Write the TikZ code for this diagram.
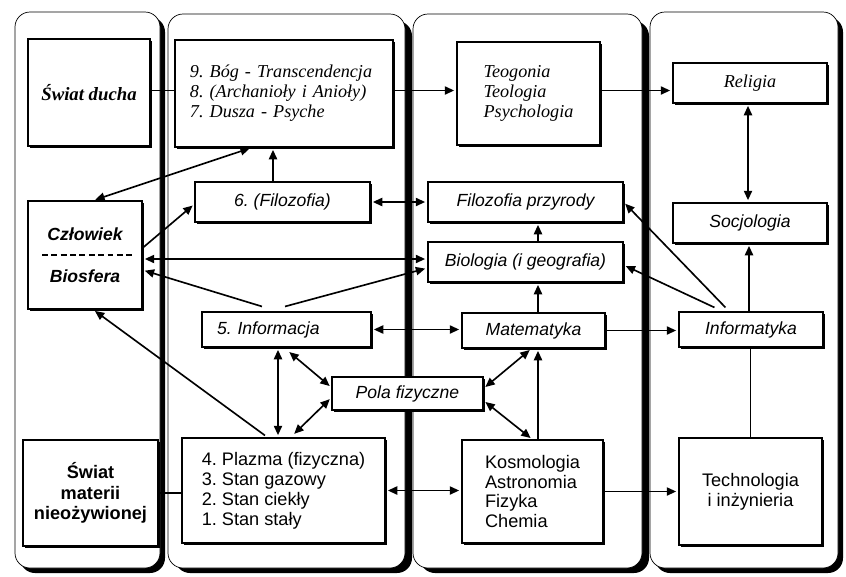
\documentclass[tikz,border=0pt]{standalone}
\usepackage{fontspec}
\setmainfont{Liberation Serif}
\setsansfont{Liberation Sans}
\usetikzlibrary{arrows.meta,calc,shadows}
\begin{document}
\frenchspacing
\begin{tikzpicture}[x=0.03cm,y=-0.03cm,
  box/.style={draw, line width=0.9pt, fill=white, inner sep=0pt,
    drop shadow={shadow xshift=1.4pt, shadow yshift=-1.4pt, opacity=1, fill=black}},
  ln/.style={line width=1.4pt},
  arr/.style={ln, -{Triangle[length=8pt,width=7pt]}, shorten >=2pt},
  darr/.style={ln, {Triangle[length=8pt,width=7pt]}-{Triangle[length=8pt,width=7pt]}, shorten >=2pt, shorten <=2pt},
  serit/.style={font=\fontsize{15.5}{17}\selectfont\itshape},
  sanit/.style={font=\fontsize{15}{17}\selectfont\sffamily\itshape},
  san/.style={font=\fontsize{15.5}{17}\selectfont\sffamily},
  panelshadow/.style={fill=black, rounded corners=0.45cm},
  panel/.style={draw, line width=0.6pt, fill=white, rounded corners=0.45cm}
]
\useasboundingbox (0,0) rectangle (846,576);
\fill[white] (0,0) rectangle (846,576);

% panels
\foreach \a/\b/\t/\s in {15/160/12/5, 168/405/14/7, 413/642/14/7, 650/838/12/5}{
  \fill[panelshadow] (\a+\s,\t+\s) rectangle (\b+\s,573);
  \draw[panel] (\a,\t) rectangle (\b,568);
}

% column 1
\node[box, font=\fontsize{16}{17}\selectfont\bfseries\itshape, minimum width=3.66cm, minimum height=3.21cm] (ducha) at (89,92.5) {Świat ducha};
\node[box, font=\fontsize{15}{17}\selectfont\sffamily\bfseries\itshape, align=center, minimum width=3.42cm, minimum height=3.24cm] (czl) at (85,255) {Człowiek\\[19pt]Biosfera};
\draw[line width=1pt, dash pattern=on 5pt off 3pt] ($(czl.center)+(-43,0)$) -- ($(czl.center)+(47,0)$);
\node[box, font=\fontsize{15.5}{17.5}\selectfont\sffamily\bfseries, align=center, minimum width=4.05cm, minimum height=3.18cm] (mat) at (90.5,493) {Świat\\materii\\nieożywionej};

% column 2
\node[box, serit, align=left, text width=5.64cm, inner xsep=0.45cm, minimum height=3.21cm] (b987) at (284,93.5) {9. Bóg - Transcendencja\\8. (Archanioły i Anioły)\\7. Dusza - Psyche};
\node[box, sanit, minimum width=5.25cm, minimum height=1.2cm] (filo6) at (282.5,202) {6. (Filozofia)};
\node[box, sanit, align=left, text width=4.17cm, inner xsep=0.45cm, minimum height=1.05cm] (inf5) at (286.5,329.5) {5. Informacja};
\node[box, sanit, minimum width=4.53cm, minimum height=0.99cm] (pola) at (407.5,393.5) {Pola fizyczne};
\node[box, san, align=left, minimum width=6.09cm, minimum height=3.15cm] (plaz) at (283.5,490.5) {4. Plazma (fizyczna)\\3. Stan gazowy\\2. Stan ciekły\\1. Stan stały};

% column 3
\node[box, serit, align=left, minimum width=4.29cm, minimum height=3.09cm] (teog) at (528.5,93.5) {Teogonia\\Teologia\\Psychologia};
\node[box, sanit, minimum width=5.85cm, minimum height=1.2cm] (fprz) at (525.5,202) {Filozofia przyrody};
\node[box, sanit, minimum width=5.85cm, minimum height=1.2cm] (biol) at (525.5,262) {Biologia (i geografia)};
\node[box, sanit, minimum width=4.29cm, minimum height=1.05cm] (matm) at (533.5,330.5) {Matematyka};
\node[box, san, align=left, minimum width=4.23cm, minimum height=3.09cm] (kosm) at (532.5,491.5) {Kosmologia\\Astronomia\\Fizyka\\Chemia};

% column 4
\node[box, serit, minimum width=4.62cm, minimum height=1.2cm] (relig) at (750,83) {Religia};
\node[box, sanit, minimum width=4.62cm, minimum height=1.2cm] (socj) at (750,223) {Socjologia};
\node[box, sanit, minimum width=4.32cm, minimum height=1.05cm] (infm) at (751,329.5) {Informatyka};
\node[box, san, align=center, minimum width=4.29cm, minimum height=3.21cm] (tech) at (750.5,491.5) {Technologia\\i inżynieria};

% anchor points for connectors
\coordinate (c1) at ($(ducha.east)+(0,-2)$);
\coordinate (c2) at ($(b987.east)+(0,-3)$);
\coordinate (c3) at ($(teog.east)+(0,-3)$);
\coordinate (c4) at ($(relig.south)+(-2,0)$);
\coordinate (c5) at ($(infm.north)+(-2,0)$);
\coordinate (c6) at ($(infm.north west)+(47,-4)$);
\coordinate (c7) at ($(infm.north west)+(36,-4)$);
\coordinate (c8) at ($(biol.east)+(0,3)$);
\coordinate (c9) at ($(matm.north)+(4.5,0)$);
\coordinate (c10) at ($(biol.north)+(12.5,0)$);
\coordinate (c11) at ($(czl.east)+(0,4)$);
\coordinate (c12) at ($(inf5.north)+(-1.5,-5)$);
\coordinate (c13) at ($(biol.west)+(0,6)$);
\coordinate (c14) at ($(inf5.north)+(-24.5,-5)$);
\coordinate (c15) at ($(czl.east)+(0,15)$);
\coordinate (c16) at ($(czl.east)+(0,-7)$);
\coordinate (c17) at ($(filo6.west)+(0,2)$);
\coordinate (c18) at ($(filo6.north)+(-9.5,0)$);
\coordinate (c19) at ($(b987.south)+(-32,0)$);
\coordinate (c20) at ($(czl.north)+(8,0)$);
\coordinate (c21) at ($(plaz.north)+(-18.5,-2)$);
\coordinate (c22) at ($(czl.south)+(8,0)$);
\coordinate (c23) at ($(inf5.south)+(-8.5,0)$);
\coordinate (c24) at ($(inf5.south)+(1,3)$);
\coordinate (c25) at ($(pola.west)+(0,-6)$);
\coordinate (c26) at ($(plaz.north)+(9,-2)$);
\coordinate (c27) at ($(pola.west)+(0,4)$);
\coordinate (c28) at ($(pola.east)+(0,-5)$);
\coordinate (c29) at ($(matm.south)+(-2,0)$);
\coordinate (c30) at ($(pola.east)+(0,7)$);
\coordinate (c31) at ($(kosm.north)+(5.5,0)$);

% connectors
\draw[ln] (c1) -- (c1 -| b987.west);
\draw[arr] (c2) -- (c2 -| teog.west);
\draw[arr] (c3) -- (c3 -| relig.west);
\draw[darr] (c4) -- (c4 |- socj.north);
\draw[arr] (c5) -- (c5 |- socj.south);
\draw[ln] (tech.north) -- (tech.north |- infm.south);
\draw[arr] (c6) -- (fprz.east);
\draw[arr] (c7) -- (c8);
\draw[arr] (matm.east) -- (matm.east -| infm.west);
\draw[arr] (c9) -- (c9 |- biol.south);
\draw[arr] (c10) -- (c10 |- fprz.south);
\draw[darr] (filo6.east) -- (fprz.west);
\draw[darr] (c11) -- (c11 -| biol.west);
\draw[arr] (c12) -- (c13);
\draw[arr] (c14) -- (c15);
\draw[arr] (c16) -- (c17);
\draw[arr] (c18) -- (c18 |- b987.south);
\draw[darr] (c19) -- (c20);
\draw[arr] (c21) -- (c22);
\draw[darr] (c23) -- (c23 |- plaz.north);
\draw[darr] (c24) -- (c25);
\draw[darr] (c26) -- (c27);
\draw[darr] (inf5.east) -- (inf5.east -| matm.west);
\draw[darr] (c28) -- (c29);
\draw[darr] (c30) -- (kosm.north);
\draw[arr] (c31) -- (c31 |- matm.south);
\draw[darr] (plaz.east) -- (plaz.east -| kosm.west);
\draw[arr] (kosm.east) -- (kosm.east -| tech.west);
\draw[ln] (mat.east) -- (mat.east -| plaz.west);
\end{tikzpicture}
\end{document}
